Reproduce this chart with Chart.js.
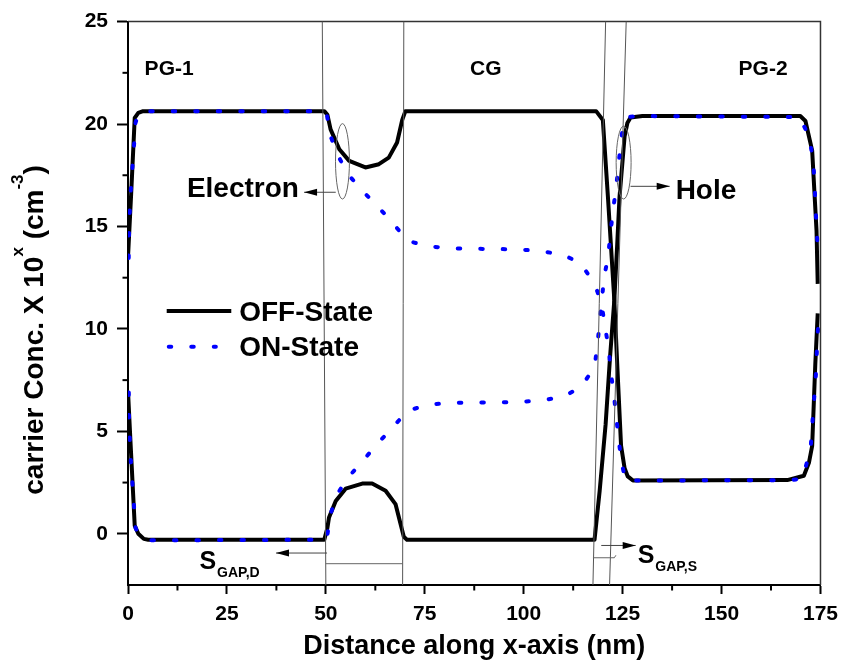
<!DOCTYPE html>
<html>
<head>
<meta charset="utf-8">
<script src="https://cdn.jsdelivr.net/npm/chart.js@4.4.0/dist/chart.umd.min.js"></script>
<style>
  html, body { margin: 0; padding: 0; background: #fff; }
</style>
</head>
<body>
<canvas id="chart" width="846" height="665"></canvas>
<script>
// tick labels
const xTickValues = [0, 25, 50, 75, 100, 125, 150, 175];
const yTickValues = [0, 5, 10, 15, 20, 25];

// OFF-State, electron
const elecOffX = [0, 0.8, 1.7, 2.6, 3.8, 49.6, 50.4, 51.2, 53.4, 55.9, 60.0, 63.4, 65.9, 68.0, 69.3, 70.1,
  118.3, 120.0, 121.3, 122.9, 123.7, 124.6, 125.5, 126.3, 127.6, 166.6, 170.8, 172.1, 172.9, 173.7, 174.3];
const elecOffY = [13.5, 16.6, 20.3, 20.55, 20.63, 20.63, 20.45, 19.74, 18.77, 18.2, 17.88, 18.04, 18.36, 19.1, 20.2, 20.63,
  20.63, 20.2, 16.4, 11.4, 8.0, 4.3, 3.2, 2.8, 2.6, 2.62, 2.83, 3.48, 4.29, 8.33, 10.76];

// OFF-State, hole
const holeOffX = [0, 0.6, 1.7, 2.6, 4.0, 5.1, 49.6, 50.4, 50.8, 52.5, 55.0, 59.2, 61.7, 65.1, 67.6, 69.7, 70.5,
  117.9, 119.2, 120.7, 121.8, 122.9, 123.6, 124.2, 125.5, 126.2, 127.0, 130.0, 169.9, 171.2, 172.9, 174.0, 174.3];
const holeOffY = [6.96, 4.6, 0.4, 0.0, -0.25, -0.29, -0.29, 0.3, 0.8, 1.6, 2.2, 2.45, 2.45, 2.1, 1.45, -0.15, -0.29,
  -0.29, 2.1, 5.34, 8.57, 11.4, 14.0, 16.4, 19.4, 20.05, 20.32, 20.39, 20.39, 20.15, 18.7, 14.8, 12.2];

// ON-State, electron
const elecOnX = [0.18, 0.25, 0.43, 0.7, 1.1, 1.5, 1.9, 2.6, 3.8, 49.6, 50.3, 51.2, 53.1, 55.6, 59.2, 63.0, 66.8, 70.6,
  76.0, 81.9, 87.6, 93.2, 98.6, 104.5, 110.2, 114.4, 117.9, 119.6, 120.6, 121.5, 122.0, 122.8, 123.4, 124.0, 124.7,
  125.7, 127.6, 166.6, 170.4, 172.5, 173.1, 173.5, 173.9, 174.1, 174.4];
const elecOnY = [13.46, 14.56, 15.66, 16.75, 17.85, 18.9, 20.06, 20.5, 20.63, 20.63, 20.4, 19.4, 18.45, 17.55, 16.75, 16.0, 15.2, 14.3,
  14.03, 13.93, 13.91, 13.9, 13.88, 13.8, 13.6, 13.2, 12.2, 11.3, 10.06, 9.0, 7.9, 6.76, 5.7, 4.6, 3.52,
  2.62, 2.6, 2.62, 2.67, 4.13, 5.83, 6.87, 7.93, 9.0, 10.1];

// ON-State, hole
const holeOnX = [0.2, 0.25, 0.43, 0.7, 1.1, 1.5, 1.9, 2.6, 4.0, 5.6, 49.6, 50.3, 51.2, 52.9, 55.6, 59.2, 62.7, 66.8, 70.6,
  76.0, 81.9, 87.5, 93.2, 98.6, 104.5, 110.2, 114.4, 117.9, 118.6, 119.2, 119.6, 120.3, 121.3, 121.9, 122.5, 123.3,
  123.9, 124.5, 125.2, 126.5, 130.0, 169.7, 172.1, 173.1, 173.5, 173.7, 174.0, 174.3];
const holeOnY = [6.9, 5.78, 4.69, 3.59, 2.5, 1.41, 0.29, 0.0, -0.25, -0.32, -0.29, -0.16, 0.97, 1.94, 2.75, 3.52, 4.33, 5.17, 6.0,
  6.31, 6.39, 6.41, 6.41, 6.44, 6.5, 6.71, 7.15, 8.12, 9.2, 10.3, 11.1, 12.5, 13.5, 14.6, 15.7, 16.8,
  17.9, 19.0, 20.1, 20.35, 20.39, 20.34, 19.4, 18.3, 17.2, 16.1, 15.0, 13.9];

const FONT = "'Liberation Sans', Arial, sans-serif";
const DOTS = [2.5, 20];

function pts(xs, ys) {
  return xs.map((v, i) => ({ x: v, y: ys[i] }));
}

function arrow(ctx, x1, y1, x2, y2) {
  ctx.beginPath(); ctx.moveTo(x1, y1); ctx.lineTo(x2, y2); ctx.stroke();
  const a = Math.atan2(y2 - y1, x2 - x1), L = 13, W = 3.5;
  ctx.beginPath();
  ctx.moveTo(x2, y2);
  ctx.lineTo(x2 - L * Math.cos(a) + W * Math.sin(a), y2 - L * Math.sin(a) - W * Math.cos(a));
  ctx.lineTo(x2 - L * Math.cos(a) - W * Math.sin(a), y2 - L * Math.sin(a) + W * Math.cos(a));
  ctx.closePath(); ctx.fill();
}

const annot = {
  id: 'annot',
  afterDatasetsDraw(chart) {
    const { ctx, chartArea: a, scales: { x, y } } = chart;
    const X = v => x.getPixelForValue(v), Y = v => y.getPixelForValue(v);
    ctx.save();

    // frame top / right
    ctx.strokeStyle = '#333'; ctx.lineWidth = 1.5;
    ctx.beginPath(); ctx.moveTo(a.left, a.top); ctx.lineTo(a.right, a.top); ctx.lineTo(a.right, a.bottom); ctx.stroke();

    // minor ticks
    ctx.strokeStyle = '#000'; ctx.lineWidth = 2;
    for (let v = 12.5; v < 175; v += 25) {
      ctx.beginPath(); ctx.moveTo(X(v), a.bottom); ctx.lineTo(X(v), a.bottom + 5.5); ctx.stroke();
    }
    for (let v = 2.5; v < 25; v += 5) {
      ctx.beginPath(); ctx.moveTo(a.left, Y(v)); ctx.lineTo(a.left - 5.5, Y(v)); ctx.stroke();
    }

    // region boundary lines
    ctx.strokeStyle = '#555'; ctx.lineWidth = 1;
    [[49.1, 50.0], [69.7, 69.4], [120.7, 117.5], [125.9, 121.7]].forEach(([t, b]) => {
      ctx.beginPath(); ctx.moveTo(X(t), Y(25)); ctx.lineTo(X(b), Y(-2.5)); ctx.stroke();
    });

    // gap markers
    ctx.strokeStyle = '#666';
    ctx.beginPath(); ctx.moveTo(X(50), Y(-1.46)); ctx.lineTo(X(69.4), Y(-1.46)); ctx.stroke();
    ctx.beginPath(); ctx.moveTo(X(117.5), Y(-1.17)); ctx.lineTo(X(122.9), Y(-1.17)); ctx.lineTo(X(123.3), Y(-1.05)); ctx.stroke();

    ctx.fillStyle = '#000'; ctx.strokeStyle = '#444';
    arrow(ctx, X(50.3), Y(-0.94), X(37.4), Y(-0.94));
    arrow(ctx, X(119.6), Y(-0.57), X(128.3), Y(-0.57));
    arrow(ctx, X(52.5), Y(16.67), X(44.5), Y(16.67));
    arrow(ctx, X(127.0), Y(16.96), X(136.9), Y(16.96));

    // ellipses
    ctx.strokeStyle = '#666'; ctx.lineWidth = 1;
    [[54.2, 18.18, 1.76, 1.84], [125.25, 18.12, 1.89, 1.78]].forEach(([cx, cy, rx, ry]) => {
      ctx.beginPath();
      ctx.ellipse(X(cx), Y(cy), X(cx + rx) - X(cx), Y(cy) - Y(cy + ry), 0, 0, Math.PI * 2);
      ctx.stroke();
    });

    // texts
    ctx.fillStyle = '#000'; ctx.textBaseline = 'alphabetic';
    ctx.font = 'bold 21px ' + FONT;
    ctx.textAlign = 'left'; ctx.fillText('PG-1', X(4.2), Y(22.4));
    ctx.textAlign = 'center'; ctx.fillText('CG', X(90.4), Y(22.4));
    ctx.fillText('PG-2', X(160.5), Y(22.4));

    ctx.font = 'bold 28px ' + FONT;
    ctx.textAlign = 'right'; ctx.fillText('Electron', X(43.2), Y(16.42));
    ctx.textAlign = 'left'; ctx.fillText('Hole', X(138.4), Y(16.34));

    // S_GAP labels
    const sub = (main, subText, xl, yb, ys) => {
      ctx.textAlign = 'left';
      ctx.font = 'bold 25px ' + FONT;
      ctx.fillText(main, xl, yb);
      const w = ctx.measureText(main).width;
      ctx.font = 'bold 14px ' + FONT;
      ctx.fillText(subText, xl + w + 1, ys);
    };
    sub('S', 'GAP,D', X(18.05), Y(-1.7), Y(-2.1));
    sub('S', 'GAP,S', X(128.8), Y(-1.43), Y(-1.82));

    // legend
    const ds = chart.data.datasets;
    ctx.lineCap = 'butt';
    ctx.strokeStyle = ds[2].borderColor; ctx.lineWidth = 4;
    ctx.beginPath(); ctx.moveTo(X(9.78), Y(10.87)); ctx.lineTo(X(26.1), Y(10.87)); ctx.stroke();
    ctx.strokeStyle = ds[0].borderColor; ctx.lineCap = 'round'; ctx.setLineDash(DOTS);
    ctx.beginPath(); ctx.moveTo(X(10.3), Y(9.13)); ctx.lineTo(X(22.2), Y(9.13)); ctx.stroke();
    ctx.setLineDash([]);
    ctx.font = 'bold 28px ' + FONT; ctx.fillStyle = '#000'; ctx.textAlign = 'left';
    ctx.fillText(ds[2].label, X(28.1), Y(10.39));
    ctx.fillText(ds[0].label, X(28.1), Y(8.66));

    // y axis title with superscripts
    const parts = [['carrier Conc. X 10', 28, 0], ['x', 17, 20], [' (cm', 28, 0], ['-3', 17, 20], [')', 28, 0]];
    let total = 0;
    parts.forEach(p => { ctx.font = 'bold ' + p[1] + 'px ' + FONT; p.push(ctx.measureText(p[0]).width); total += p[3]; });
    ctx.translate(43, Y(9.95));
    ctx.rotate(-Math.PI / 2);
    let cx = -total / 2;
    parts.forEach(p => {
      ctx.font = 'bold ' + p[1] + 'px ' + FONT;
      ctx.fillText(p[0], cx, -p[2]);
      cx += p[3];
    });

    ctx.restore();
  }
};

const tickFont = { family: FONT, size: 21, weight: 'bold' };

new Chart(document.getElementById('chart'), {
  type: 'line',
  data: {
    datasets: [
      { label: 'ON-State', data: pts(elecOnX, elecOnY), borderColor: '#0000ff', borderWidth: 4,
        borderDash: DOTS, borderCapStyle: 'round', pointRadius: 0, order: 0 },
      { label: 'ON-State', data: pts(holeOnX, holeOnY), borderColor: '#0000ff', borderWidth: 4,
        borderDash: DOTS, borderCapStyle: 'round', pointRadius: 0, order: 0 },
      { label: 'OFF-State', data: pts(elecOffX, elecOffY), borderColor: '#000000', borderWidth: 4,
        borderJoinStyle: 'round', pointRadius: 0, order: 1 },
      { label: 'OFF-State', data: pts(holeOffX, holeOffY), borderColor: '#000000', borderWidth: 4,
        borderJoinStyle: 'round', pointRadius: 0, order: 1 }
    ]
  },
  options: {
    responsive: false,
    animation: false,
    layout: { padding: { top: 18, right: 23, left: 0, bottom: 0 } },
    plugins: { legend: { display: false }, tooltip: { enabled: false } },
    scales: {
      x: {
        type: 'linear', min: 0, max: 175,
        afterBuildTicks: s => { s.ticks = xTickValues.map(v => ({ value: v })); },
        afterFit: s => { s.height = 80; },
        ticks: { font: tickFont, color: '#000', padding: 8, maxRotation: 0, autoSkip: false },
        grid: { drawOnChartArea: false, tickLength: 9, tickWidth: 2, tickColor: '#000' },
        border: { color: '#000', width: 2 },
        title: { display: true, text: 'Distance along x-axis (nm)', color: '#000',
                 font: { family: FONT, size: 27, weight: 'bold' }, padding: { top: 0, bottom: 2 } }
      },
      y: {
        type: 'linear', min: -2.5, max: 25,
        afterBuildTicks: s => { s.ticks = yTickValues.map(v => ({ value: v })); },
        afterFit: s => { s.width = 128; },
        ticks: { font: tickFont, color: '#000', padding: 9 },
        grid: { drawOnChartArea: false, tickLength: 11, tickWidth: 2, tickColor: '#000' },
        border: { color: '#000', width: 2 }
      }
    }
  },
  plugins: [annot]
});
</script>
</body>
</html>
